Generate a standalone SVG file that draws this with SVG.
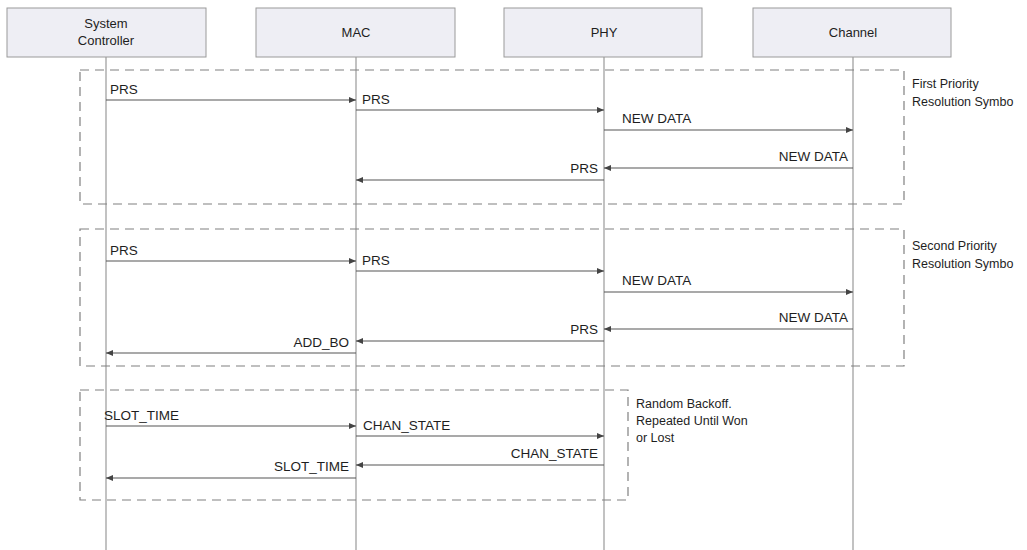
<svg xmlns="http://www.w3.org/2000/svg" width="1027" height="550" viewBox="0 0 1027 550">
<defs>
<marker id="ah" markerWidth="8" markerHeight="8" refX="7" refY="4" orient="auto" markerUnits="userSpaceOnUse">
<path d="M0,1 L7,4 L0,7 Z" fill="#444"/>
</marker>
<style>
.box{fill:#eeeef4;stroke:#9a9a9a;stroke-width:1}
.life{stroke:#858585;stroke-width:1;fill:none}
.frame{fill:none;stroke:#808080;stroke-width:1.2;stroke-dasharray:9,6}
.msg{stroke:#555;stroke-width:1.2;fill:none;marker-end:url(#ah)}
text{font-family:"Liberation Sans",Arial,sans-serif;font-size:13.5px;fill:#1e1e1e}
.t{font-size:13px}
.n{font-size:12.5px}
.r{text-anchor:end}
.c{text-anchor:middle}
</style>
</defs>
<rect width="1027" height="550" fill="#fff"/>
<g id="lifelines">
<line class="life" x1="106" y1="57" x2="106" y2="550"/>
<line class="life" x1="356" y1="57" x2="356" y2="550"/>
<line class="life" x1="604" y1="57" x2="604" y2="550"/>
<line class="life" x1="853" y1="57" x2="853" y2="550"/>
</g>
<g id="node-sc"><rect class="box" x="7" y="8" width="199" height="49"/><text class="t c" x="106" y="28">System</text><text class="t c" x="106" y="45">Controller</text></g>
<g id="node-mac"><rect class="box" x="256" y="8" width="199" height="49"/><text class="t c" x="356" y="37">MAC</text></g>
<g id="node-phy"><rect class="box" x="504" y="8" width="198" height="49"/><text class="t c" x="604" y="37">PHY</text></g>
<g id="node-channel"><rect class="box" x="753" y="8" width="198" height="49"/><text class="t c" x="853" y="37">Channel</text></g>
<g id="frame1"><rect class="frame" x="80" y="70" width="824" height="134"/><text class="n" x="912" y="88">First Priority</text><text class="n" x="912" y="106">Resolution Symbo</text></g>
<g id="frame2"><rect class="frame" x="80" y="229" width="824" height="137"/><text class="n" x="912" y="250">Second Priority</text><text class="n" x="912" y="268">Resolution Symbo</text></g>
<g id="frame3"><rect class="frame" x="80" y="390" width="548" height="110"/><text class="n" x="636" y="408">Random Backoff.</text><text class="n" x="636" y="425">Repeated Until Won</text><text class="n" x="636" y="442">or Lost</text></g>
<g id="connectors">
<line class="msg" x1="106" y1="100" x2="356" y2="100"/>
<line class="msg" x1="356" y1="110" x2="604" y2="110"/>
<line class="msg" x1="604" y1="130" x2="853" y2="130"/>
<line class="msg" x1="853" y1="168" x2="604" y2="168"/>
<line class="msg" x1="604" y1="180" x2="356" y2="180"/>
<line class="msg" x1="106" y1="261" x2="356" y2="261"/>
<line class="msg" x1="356" y1="271" x2="604" y2="271"/>
<line class="msg" x1="604" y1="292" x2="853" y2="292"/>
<line class="msg" x1="853" y1="329" x2="604" y2="329"/>
<line class="msg" x1="604" y1="341" x2="356" y2="341"/>
<line class="msg" x1="356" y1="353" x2="106" y2="353"/>
<line class="msg" x1="106" y1="426" x2="356" y2="426"/>
<line class="msg" x1="356" y1="436" x2="604" y2="436"/>
<line class="msg" x1="604" y1="465" x2="356" y2="465"/>
<line class="msg" x1="356" y1="478" x2="106" y2="478"/>
</g>
<g id="labels">
<text x="110" y="94">PRS</text>
<text x="362" y="104">PRS</text>
<text x="622" y="123">NEW DATA</text>
<text class="r" x="848" y="161">NEW DATA</text>
<text class="r" x="598" y="173">PRS</text>
<text x="110" y="255">PRS</text>
<text x="362" y="265">PRS</text>
<text x="622" y="285">NEW DATA</text>
<text class="r" x="848" y="322">NEW DATA</text>
<text class="r" x="598" y="334">PRS</text>
<text class="r" x="349" y="347">ADD_BO</text>
<text x="104" y="420">SLOT_TIME</text>
<text x="363" y="430">CHAN_STATE</text>
<text class="r" x="598" y="458">CHAN_STATE</text>
<text class="r" x="349" y="471">SLOT_TIME</text>
</g>
</svg>
